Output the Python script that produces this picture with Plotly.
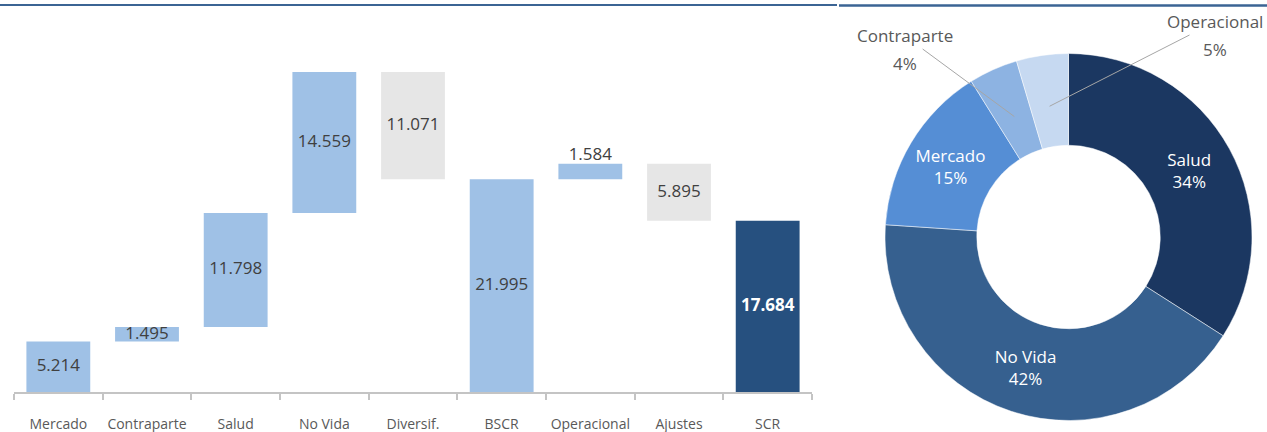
import numpy as np
import plotly.graph_objects as go

# Waterfall data (thousands)
categories = ["Mercado", "Contraparte", "Salud", "No Vida", "Diversif.", "BSCR", "Operacional", "Ajustes", "SCR"]
amounts = [5214, 1495, 11798, 14559, -11071, 21995, 1584, -5895, 17684]
measures = ["rel", "rel", "rel", "rel", "rel", "total", "rel", "rel", "total"]

# Donut data
donut_labels = ["Salud", "No Vida", "Mercado", "Contraparte", "Operacional"]
donut_values = [11798, 14559, 5214, 1495, 1584]

LIGHT = "#9fc1e6"
GREY = "#e6e6e6"
DARK = "#26507f"
TEXT = "#404040"
AXIS_TXT = "#595959"
FONT = "Open Sans"

W, H = 1267, 432

# compute bar bases / heights from running total
bases, heights, colors = [], [], []
running = 0
for name, v, m in zip(categories, amounts, measures):
    if m == "total":
        bases.append(0)
        heights.append(v)
        running = v
        colors.append(DARK if name == "SCR" else LIGHT)
    else:
        if v >= 0:
            bases.append(running)
            heights.append(v)
            colors.append(LIGHT)
        else:
            bases.append(running + v)
            heights.append(-v)
            colors.append(GREY)
        running += v

bases = np.array(bases)
heights = np.array(heights)

def fmt(v):
    return f"{abs(v):,}".replace(",", ".")

labels_txt = []
label_y = []
label_pos = []
label_col = []
for name, v, b, h in zip(categories, amounts, bases, heights):
    t = fmt(v)
    if name == "SCR":
        t = f"<b>{t}</b>"
        label_col.append("white")
    else:
        label_col.append(TEXT)
    labels_txt.append(t)
    if name == "Operacional":
        label_y.append(b + h)
        label_pos.append("top center")
    else:
        label_y.append(b + h / 2)
        label_pos.append("middle center")

fig = go.Figure()

fig.add_trace(go.Bar(
    x=categories, y=heights, base=bases,
    marker=dict(color=colors, line=dict(width=0)),
    width=0.72, hoverinfo="skip", showlegend=False,
    xaxis="x", yaxis="y",
))

fig.add_trace(go.Scatter(
    x=categories, y=label_y, mode="text", text=labels_txt,
    textposition=label_pos,
    textfont=dict(family=FONT, size=17, color=label_col),
    hoverinfo="skip", showlegend=False,
    xaxis="x", yaxis="y",
))

# Donut
pie_dom_x = [885 / W, 1252 / W]
pie_dom_y = [(H - 420.5) / H, (H - 53.5) / H]
donut_colors = ["#1b3761", "#36608f", "#558ed5", "#8db3e2", "#c6d9f1"]
inside = ["%{label}<br>%{percent:.0%}", "%{label}<br>%{percent:.0%}", "%{label}<br>%{percent:.0%}", "", ""]

fig.add_trace(go.Pie(
    labels=donut_labels, values=donut_values, hole=0.5, sort=False,
    direction="clockwise", rotation=0,
    marker=dict(colors=donut_colors, line=dict(color="white", width=0.5)),
    texttemplate=inside, textposition="inside", insidetextorientation="horizontal",
    textfont=dict(family=FONT, size=17, color="white"),
    domain=dict(x=pie_dom_x, y=pie_dom_y), showlegend=False, hoverinfo="skip",
))

# leader-line labels for the small slices, anchored at slice midpoints
cx = (pie_dom_x[0] + pie_dom_x[1]) / 2 * W
cy = H - (pie_dom_y[0] + pie_dom_y[1]) / 2 * H
R = (pie_dom_x[1] - pie_dom_x[0]) * W / 2
vals = np.array(donut_values, dtype=float)
frac = vals / vals.sum()
cum = np.cumsum(frac)
mid = (cum - frac / 2) * 2 * np.pi
# label placement: (centre x, name y, percent y) in pixels
outside = {"Contraparte": (905, 36, 63), "Operacional": (1215, 22, 50)}
for i, name in enumerate(donut_labels):
    if name not in outside:
        continue
    px = cx + 0.72 * R * np.sin(mid[i])
    py = cy - 0.72 * R * np.cos(mid[i])
    tx, ty, tpy = outside[name]
    fig.add_annotation(
        x=px / W, y=(H - py) / H, xref="paper", yref="paper",
        ax=tx - px, ay=ty - py, text=name,
        showarrow=True, arrowhead=0, arrowwidth=1, arrowcolor="#a6a6a6",
        font=dict(family=FONT, size=17, color=AXIS_TXT),
    )
    fig.add_annotation(
        x=tx / W, y=(H - tpy) / H, xref="paper", yref="paper",
        xanchor="center", yanchor="middle",
        text=f"{frac[i]*100:.0f}%", showarrow=False,
        font=dict(family=FONT, size=17, color=AXIS_TXT),
    )

# header rules
fig.add_shape(type="line", xref="paper", yref="paper", x0=0, x1=837 / W,
              y0=(H - 5) / H, y1=(H - 5) / H, line=dict(color="#3b6494", width=2))
fig.add_shape(type="line", xref="paper", yref="paper", x0=839 / W, x1=1,
              y0=(H - 5.5) / H, y1=(H - 5.5) / H, line=dict(color="#3b6494", width=2.5))

fig.update_layout(
    width=W, height=H, margin=dict(l=0, r=0, t=0, b=0, autoexpand=False),
    paper_bgcolor="white", plot_bgcolor="white",
    font=dict(family=FONT, color=AXIS_TXT),
    xaxis=dict(domain=[14 / W, 812 / W], type="category", automargin=False,
               showline=True, linecolor="#c4c4c4", linewidth=2,
               ticks="outside", tickson="boundaries", ticklen=6, tickcolor="#c4c4c4", tickwidth=2,
               tickangle=0, tickfont=dict(family=FONT, size=14, color=AXIS_TXT),
               ticklabelstandoff=18, showgrid=False, zeroline=False, fixedrange=True),
    yaxis=dict(domain=[40 / H, (H - 43.6) / H], range=[0, 36000], automargin=False,
               showgrid=False, zeroline=False, showticklabels=False, showline=False,
               fixedrange=True),
    bargap=0.28,
)

fig.write_html("out.html")
